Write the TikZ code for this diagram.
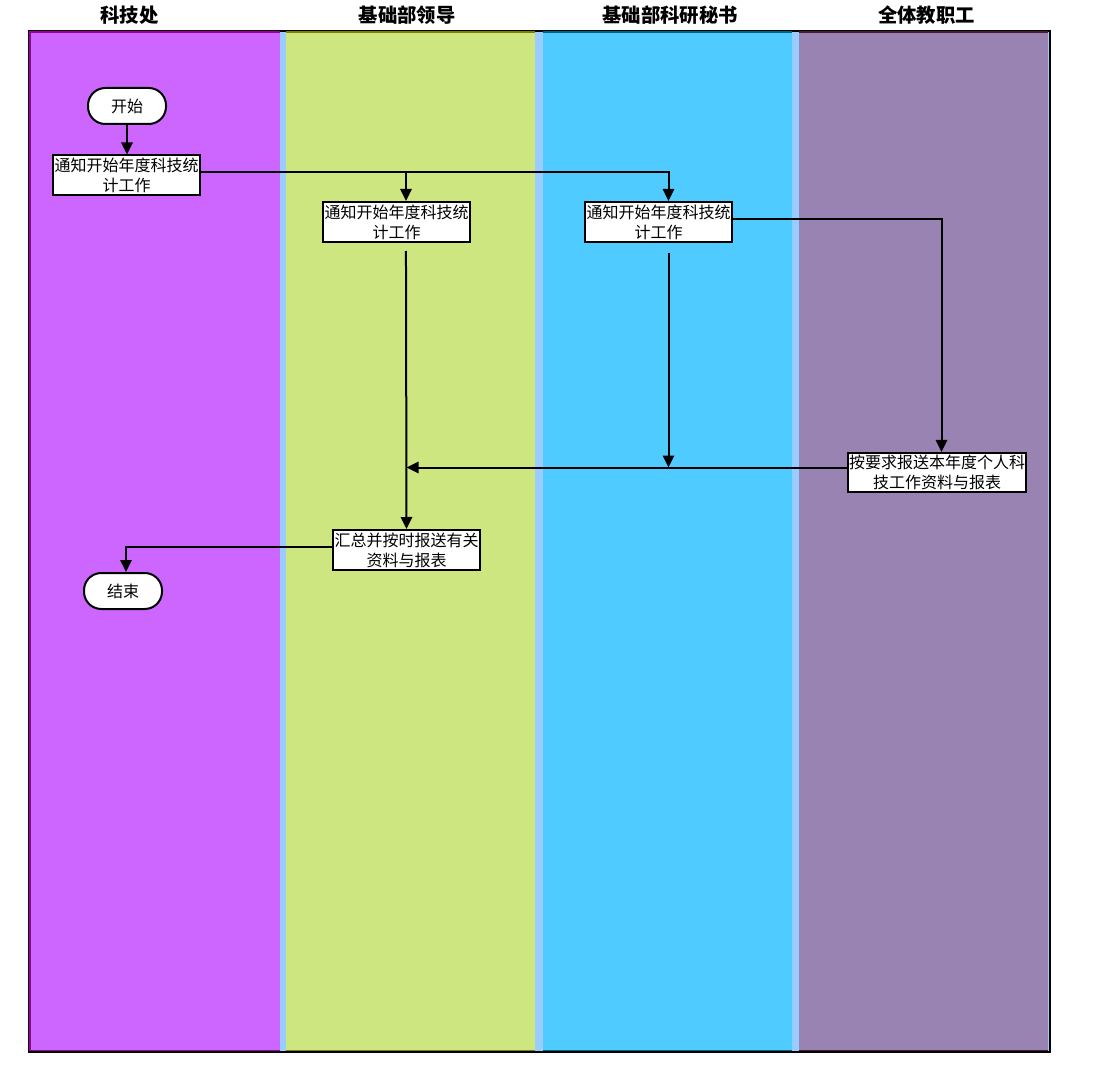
\documentclass[tikz,border=0pt]{standalone}
\usepackage{fontspec}
\setmainfont{Noto Sans CJK SC}
\usetikzlibrary{arrows.meta,calc}
\definecolor{kjcfill}{HTML}{CC66FF}
\definecolor{kjcedge}{HTML}{990099}
\definecolor{ldfill}{HTML}{CEE680}
\definecolor{ldedge}{HTML}{808000}
\definecolor{msfill}{HTML}{4FCBFF}
\definecolor{msedge}{HTML}{006680}
\definecolor{jzgfill}{HTML}{9983B3}
\definecolor{jzgedge}{HTML}{4D1A33}
\definecolor{poolgap}{HTML}{99CCFF}
\tikzset{
	procbox/.style={draw=black, line width=1.5pt, fill=white, minimum width=110pt, minimum height=30pt, inner sep=0pt, align=center, font=\fontsize{12}{15}\selectfont},
	termbox/.style={draw=black, line width=1.5pt, fill=white, rounded corners=13pt, minimum width=58.5pt, minimum height=27pt, inner sep=0pt, font=\fontsize{12}{15}\selectfont},
	flow/.style={line width=1.5pt, -{Triangle[length=9pt,width=8.5pt]}},
	lanehead/.style={font=\bfseries\fontsize{14.5}{16}\selectfont}
}

\begin{document}
\begin{tikzpicture}[x=0.75pt, y=-0.75pt]
			%%%%% START %%%%%
			
			\useasboundingbox (0,0) rectangle (1100,1077);
			
			\draw[line width=1.5pt, fill=poolgap] (29,31) rectangle (1050,1052);
			\fill[kjcfill] (29.5,31.5) rectangle (279.5,1051.5);
			\fill[ldfill] (286,31.5) rectangle (535,1051.5);
			\fill[msfill] (543,31.5) rectangle (792,1051.5);
			\fill[jzgfill] (799,31.5) rectangle (1047.5,1051.5);
			\draw[line width=1.2pt, kjcedge] (279.5,32) -- (30,32) -- (30,1051) -- (279.5,1051);
			\draw[line width=1.2pt, ldedge] (286,32) -- (535,32) (286,1051) -- (535,1051);
			\draw[line width=1.2pt, msedge] (543,32) -- (792,32) (543,1051) -- (792,1051);
			\draw[line width=1.2pt, jzgedge] (799,32) -- (1047.5,32) (799,1051) -- (1047.5,1051);
			\draw[line width=1.5pt] (1050,31) -- (1050,1052) -- (29,1052);
			
			\node[lanehead] (h1) at (129.5,15) {科技处};
			\node[lanehead] (h2) at (407,15) {基础部领导};
			\node[lanehead] (h3) at (670,15) {基础部科研秘书};
			\node[lanehead] (h4) at (926.5,15) {全体教职工};
			
			\node[termbox] (start) at (127,106) {开始};
			\node[procbox] (a1) at (126.5,175.5) {通知开始年度科技统\\计工作};
			\node[procbox] (a2) at (396.5,222) {通知开始年度科技统\\计工作};
			\node[procbox] (a3) at (658.5,222) {通知开始年度科技统\\计工作};
			\node[procbox, minimum width=134pt, minimum height=29.3pt] (a4) at (937,472.5) {按要求报送本年度个人科\\技工作资料与报表};
			\node[procbox] (a5) at (406.5,550) {汇总并按时报送有关\\资料与报表};
			\node[termbox] (end) at (123,591) {结束};
			
			\coordinate (m2) at (406.5,467.5);
			\coordinate (m3) at (668.5,467.5);
			
			\draw[flow] (start.south) -- (start.south |- a1.north);
			\draw[flow] ([yshift=2.6pt]a1.east) -| ([xshift=7.1pt]a2.north);
			\draw[flow] ([yshift=2.6pt]a1.east) -| ([xshift=7.5pt]a3.north);
			\draw[flow] ([xshift=7.1pt,yshift=-6pt]a2.south) -- (a5.north);
			\draw[flow] ([xshift=7.5pt,yshift=-7.5pt]a3.south) -- (m3);
			\draw[flow] ([yshift=2.25pt]a3.east) -| ([xshift=3.4pt]a4.north);
			\draw[flow] ([yshift=3.75pt]a4.west) -- (m2);
			\draw[flow] ([yshift=2.25pt]a5.west) -| ([xshift=2.25pt]end.north);
			
			%%%%% END %%%%%
		\end{tikzpicture}
\end{document}
